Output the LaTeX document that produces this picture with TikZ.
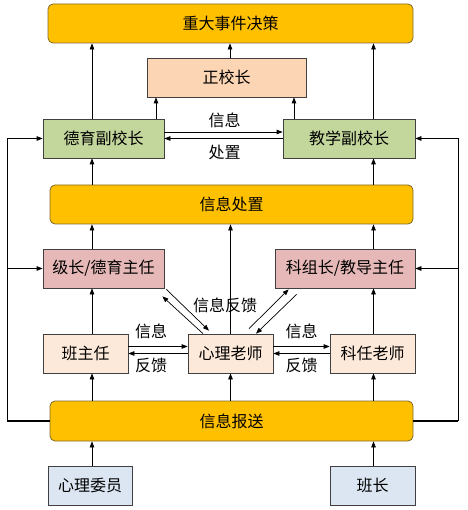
\documentclass[tikz,border=0pt]{standalone}
\usepackage{fontspec}
\setmainfont{Noto Sans CJK SC}
\usetikzlibrary{arrows.meta}
\definecolor{gold}{HTML}{FFC000}
\definecolor{golddraw}{HTML}{7F6A2A}
\definecolor{peach}{HTML}{FCD5B5}
\definecolor{vpgreen}{HTML}{C3D69B}
\definecolor{pinkbox}{HTML}{E6B9B8}
\definecolor{lightpeach}{HTML}{FDE9D9}
\definecolor{lightblue}{HTML}{DCE6F2}
\begin{document}
\begin{tikzpicture}[x=1pt,y=-1pt,font=\fontsize{16}{19}\selectfont,
  box/.style={draw=black!75,line width=0.7pt,inner sep=0pt,minimum height=39pt},
  goldbox/.style={draw=golddraw,line width=0.8pt,inner sep=0pt,minimum height=39pt,fill=gold,rounded corners=5pt},
  arr/.style={-{Triangle[length=6pt,width=4.5pt]},line width=0.7pt},
  lbl/.style={inner sep=0pt}]
\useasboundingbox (0,0) rectangle (467,510);
\coordinate (L) at (92,0);
\coordinate (M) at (230,0);
\coordinate (R) at (373.5,0);
\coordinate (L2) at (156,0);
\coordinate (R2) at (294,0);
\coordinate (OL) at (7,0);
\coordinate (OR) at (458,0);
% nodes
\node[goldbox,minimum width=365pt] (top) at (230.5,23.5) {重大事件决策};
\node[box,fill=peach,minimum width=159pt] (zxz) at (226.5,77.5) {正校长};
\node[box,fill=vpgreen,minimum width=121pt] (dy) at (103.5,138.5) {德育副校长};
\node[box,fill=vpgreen,minimum width=132pt] (jx) at (349,138.5) {教学副校长};
\node[goldbox,minimum width=363pt] (xc) at (231.5,204.5) {信息处置};
\node[box,fill=pinkbox,minimum width=121pt] (jz) at (103.5,268.5) {级长/德育主任};
\node[box,fill=pinkbox,minimum width=140pt] (kz) at (345,268.5) {科组长/教导主任};
\node[box,fill=lightpeach,minimum width=85pt] (bzr) at (85.5,353.5) {班主任};
\node[box,fill=lightpeach,minimum width=85pt] (xl) at (230.5,353.5) {心理老师};
\node[box,fill=lightpeach,minimum width=85pt] (kr) at (372.5,353.5) {科任老师};
\node[goldbox,minimum width=363pt,minimum height=40pt] (bs) at (231.5,421) {信息报送};
\node[box,fill=lightblue,minimum width=84pt] (xw) at (90,485.5) {心理委员};
\node[box,fill=lightblue,minimum width=85pt] (bz) at (372.5,485.5) {班长};
% labels
\node[lbl] (t1) at (224.5,120.5) {信息};
\node[lbl] (t2) at (224.5,152.5) {处置};
\node[lbl] (t3) at (225,305.5) {信息反馈};
\node[lbl] (t4) at (151,331) {信息};
\node[lbl] (t5) at (151,365) {反馈};
\node[lbl] (t6) at (301.5,331) {信息};
\node[lbl] (t7) at (301.5,365) {反馈};
% top section
\draw[arr] (dy.north -| L) -- (top.south -| L);
\draw[arr] (jx.north -| R) -- (top.south -| R);
\draw[arr] (zxz.north -| M) -- (top.south -| M);
\draw[arr] (dy.north -| L2) -- (zxz.south -| L2);
\draw[arr] (jx.north -| R2) -- (zxz.south -| R2);
\draw[arr] ([yshift=6.5pt]dy.east) -- ([yshift=6.5pt]jx.west);
\draw[arr] (jx.west) -- (dy.east);
% middle
\draw[arr] (xc.north -| L) -- (dy.south -| L);
\draw[arr] (xc.north -| R) -- (jx.south -| R);
\draw[arr] (jz.north -| L) -- (xc.south -| L);
\draw[arr] (kz.north -| R) -- (xc.south -| R);
\draw[arr] (xl.north) -- (xc.south -| xl.north);
\draw[arr] (bzr.north -| L) -- (jz.south -| L);
\draw[arr] (kr.north -| R) -- (kz.south -| R);
% level 4 horizontal
\draw[arr] ([yshift=7pt]bzr.east) -- ([yshift=7pt]xl.west);
\draw[arr] (xl.west) -- (bzr.east);
\draw[arr] ([yshift=7pt]xl.east) -- ([yshift=7pt]kr.west);
\draw[arr] (kr.west) -- (xl.east);
% diagonals
\draw[arr] ([shift={(2,1)}]jz.south east) -- ([shift={(-21.5,-3)}]xl.north);
\draw[arr] ([shift={(-27.5,0)}]xl.north) -- ([shift={(-2,8)}]jz.south east);
\draw[arr] ([shift={(18.5,-5)}]xl.north) -- ([shift={(14,1)}]kz.south west);
\draw[arr] ([shift={(22,6)}]kz.south west) -- ([shift={(25.5,0)}]xl.north);
% bottom
\draw[arr] (bs.north -| L) -- (bzr.south -| L);
\draw[arr] (bs.north -| xl.south) -- (xl.south);
\draw[arr] (bs.north -| R) -- (kr.south -| R);
\draw[arr] (xw.north -| L) -- (bs.south -| L);
\draw[arr] (bz.north -| R) -- (bs.south -| R);
% outer loops
\draw[line width=1.3pt] (bs.west) -- (bs.west -| OL);
\draw[arr] (bs.west -| OL) |- (dy.west);
\draw[arr] (OL |- jz.west) -- (jz.west);
\draw[line width=1.3pt] (bs.east) -- (bs.east -| OR);
\draw[arr] (bs.east -| OR) |- (jx.east);
\draw[arr] (OR |- kz.east) -- (kz.east);
\end{tikzpicture}
\end{document}
